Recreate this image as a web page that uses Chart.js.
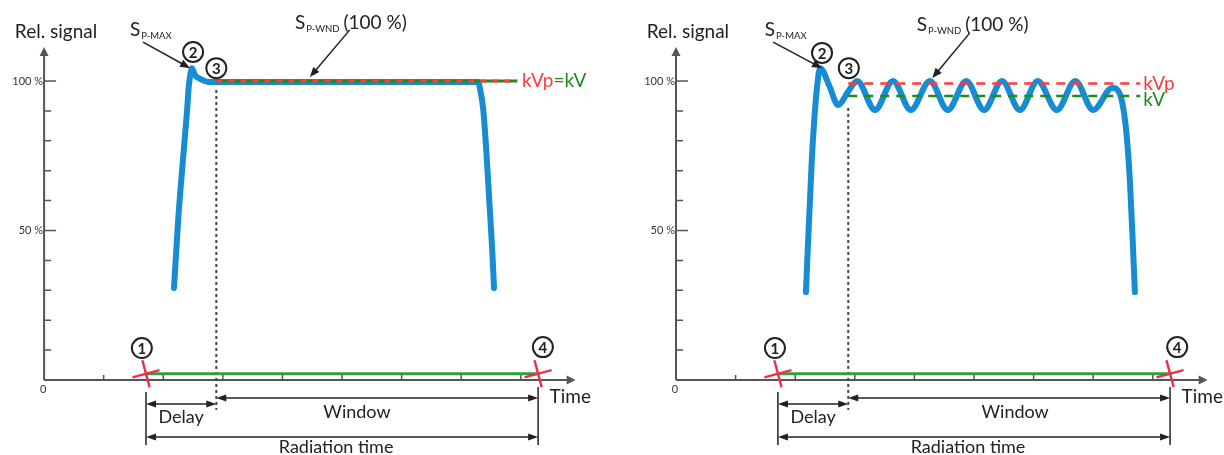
<!DOCTYPE html>
<html lang="en">
<head>
<meta charset="UTF-8">
<title>Signal window</title>
<style>
  body { margin: 0; background: #fff; width: 1224px; height: 455px; overflow: hidden; position: relative; }
  .panel { position: absolute; top: 0; width: 612px; height: 455px; }
  #leftPanel { left: 0; }
  #rightPanel { left: 612px; }
</style>
<script src="https://cdn.jsdelivr.net/npm/chart.js"></script>
</head>
<body>
<div class="panel" id="leftPanel"><canvas id="leftChart" width="612" height="455"></canvas></div>
<div class="panel" id="rightPanel"><canvas id="rightChart" width="612" height="455"></canvas></div>
<script>
// time in tick units, signal in %
const timeTicks = [1, 2, 3, 4, 5, 6, 7, 8];
const signalTicks = [10, 20, 30, 40, 50, 60, 70, 80, 90, 100];
const signalTickLabels = ['', '', '', '', '50 %', '', '', '', '', '100 %'];

const radiationStart = 1.71;
const radiationEnd = 8.29;
const windowStart = 2.89;
const baselineLevel = 2.1;

// left panel: stable signal
const leftTime   = [2.18, 2.25, 2.33, 2.40, 2.43, 2.47, 2.48, 2.53, 2.62, 2.75, 7.28, 7.32, 7.37, 7.42, 7.47, 7.52, 7.55];
const leftSignal = [30.8, 53.5, 73.6, 90.3, 98.7, 103.7, 104.3, 102.0, 100.7, 99.7, 99.7, 97.0, 90.3, 76.9, 60.2, 43.5, 30.8];
const leftKv = 100;
const leftKvEnd = 7.94;

// right panel: rippled signal
const rightTime   = [2.18, 2.28, 2.37, 2.42, 2.57, 2.72, 2.89, 3.04, 3.34, 3.64, 3.94, 4.26, 4.56, 4.87, 5.17, 5.47, 5.77, 6.07, 6.39, 6.70, 7.00, 7.32, 7.45, 7.52, 7.57, 7.62, 7.66, 7.70];
const rightSignal = [29.4, 74.2, 98.7, 104.3, 98.5, 92.0, 96.5, 100.0, 90.3, 100.0, 90.3, 100.0, 90.3, 100.0, 90.3, 100.0, 90.3, 100.0, 90.3, 100.0, 90.3, 97.7, 95.5, 89.0, 80.0, 65.0, 48.0, 29.4];
const rightKvp = 99.2;
const rightKv = 95.0;
const rightKvEnd = 7.79;

const BLUE = '#168cd2';
const GREEN = '#2ea043';
const DARK_GREEN = '#1c8c1c';
const RED = '#ff3b3b';
const AXIS = '#555';
const INK = '#222';
const FONT = 'Lato, "Open Sans", sans-serif';

function pts(xs, ys) {
    return xs.map((x, i) => ({ x: x, y: ys[i] }));
}

function head(ctx, x1, y1, x2, y2, len, half) {
    const a = Math.atan2(y2 - y1, x2 - x1);
    const c = Math.cos(a), s = Math.sin(a);
    ctx.beginPath();
    ctx.moveTo(x2, y2);
    ctx.lineTo(x2 - len * c + half * s, y2 - len * s - half * c);
    ctx.lineTo(x2 - len * c - half * s, y2 - len * s + half * c);
    ctx.closePath();
    ctx.fill();
}

function makePlugin(cfg) {
    return {
        id: 'sketch',
        beforeDatasetsDraw(chart) {
            const ctx = chart.ctx;
            const X = v => chart.scales.x.getPixelForValue(v);
            const Y = v => chart.scales.y.getPixelForValue(v);
            const ox = X(0), oy = Y(0);
            ctx.save();
            ctx.strokeStyle = AXIS;
            ctx.fillStyle = AXIS;
            ctx.lineWidth = 2;
            // axes with arrows
            ctx.beginPath();
            ctx.moveTo(ox, oy); ctx.lineTo(ox, Y(111.4) + 6);
            ctx.moveTo(ox, oy); ctx.lineTo(X(8.92) - 6, oy);
            ctx.stroke();
            head(ctx, ox, oy, ox, Y(111.4), 9, 4.5);
            head(ctx, ox, oy, X(8.92), oy, 9, 4.5);
            // ticks
            ctx.lineWidth = 1.5;
            ctx.beginPath();
            timeTicks.forEach(t => { ctx.moveTo(X(t), oy); ctx.lineTo(X(t), oy - 5); });
            signalTicks.forEach((s, i) => {
                ctx.moveTo(ox, Y(s));
                ctx.lineTo(ox + (signalTickLabels[i] ? 12 : 7), Y(s));
            });
            ctx.stroke();
            ctx.fillStyle = '#333';
            ctx.font = '11px ' + FONT;
            ctx.textBaseline = 'middle';
            ctx.textAlign = 'right';
            signalTicks.forEach((s, i) => {
                if (signalTickLabels[i]) ctx.fillText(signalTickLabels[i], ox - 1, Y(s));
            });
            ctx.textAlign = 'center';
            ctx.fillText('0', ox - 1, oy + 9);
            ctx.fillStyle = INK;
            ctx.font = '19px ' + FONT;
            ctx.fillText('Rel. signal', X(0.2), Y(116.4));
            ctx.fillText('Time', X(8.83), Y(-5.7));
            ctx.restore();
        },
        afterDatasetsDraw(chart) {
            const ctx = chart.ctx;
            const X = v => chart.scales.x.getPixelForValue(v);
            const Y = v => chart.scales.y.getPixelForValue(v);
            ctx.save();
            ctx.strokeStyle = INK;
            ctx.fillStyle = INK;
            ctx.textBaseline = 'middle';

            // dimension lines
            ctx.lineWidth = 1.5;
            ctx.beginPath();
            ctx.moveTo(X(radiationStart), Y(-4)); ctx.lineTo(X(radiationStart), Y(-21.7));
            ctx.moveTo(X(radiationEnd), Y(-2.3)); ctx.lineTo(X(radiationEnd), Y(-21.7));
            ctx.stroke();
            const dim = (a, b, lvl) => {
                ctx.beginPath();
                ctx.moveTo(X(a) + 4, Y(lvl)); ctx.lineTo(X(b) - 4, Y(lvl));
                ctx.stroke();
                head(ctx, X(b), Y(lvl), X(a), Y(lvl), 10, 3.5);
                head(ctx, X(a), Y(lvl), X(b), Y(lvl), 10, 3.5);
            };
            dim(radiationStart, windowStart, -8);
            dim(windowStart, radiationEnd, -6);
            dim(radiationStart, radiationEnd, -19.1);

            ctx.font = '18px ' + FONT;
            ctx.textAlign = 'center';
            ctx.fillText('Delay', X((radiationStart + windowStart) / 2), Y(-12.4));
            ctx.fillText('Window', X(cfg.windowText), Y(-10.7));
            ctx.fillText('Radiation time', X(4.9), Y(-22.4));

            // labels with subscripts
            const sub = (x, y, sText, tail) => {
                ctx.textAlign = 'left';
                ctx.font = '19px ' + FONT;
                let px = X(x);
                ctx.fillText('S', px, Y(y));
                px += ctx.measureText('S').width + 1;
                ctx.font = '9.5px ' + FONT;
                ctx.fillText(sText, px, Y(y) + 6);
                px += ctx.measureText(sText).width + 4;
                if (tail) {
                    ctx.font = '19px ' + FONT;
                    ctx.fillText(tail, px, Y(y));
                }
            };
            sub(cfg.pmax[0], cfg.pmax[1], 'P-MAX');
            sub(cfg.pwnd[0], cfg.pwnd[1], 'P-WND', '(100 %)');

            // pointer arrows
            ctx.lineWidth = 1.5;
            cfg.arrows.forEach(a => {
                const x1 = X(a[0]), y1 = Y(a[1]), x2 = X(a[2]), y2 = Y(a[3]);
                const d = Math.hypot(x2 - x1, y2 - y1);
                ctx.beginPath();
                ctx.moveTo(x1, y1);
                ctx.lineTo(x2 - (x2 - x1) / d * 6, y2 - (y2 - y1) / d * 6);
                ctx.stroke();
                head(ctx, x1, y1, x2, y2, 10, 4);
            });

            // numbered circles
            cfg.circles.forEach(c => {
                ctx.beginPath();
                ctx.lineWidth = 2;
                ctx.fillStyle = '#fff';
                ctx.arc(X(c[1]), Y(c[2]), 10, 0, Math.PI * 2);
                ctx.fill();
                ctx.stroke();
                ctx.fillStyle = INK;
                ctx.font = 'bold 15px ' + FONT;
                ctx.textAlign = 'center';
                ctx.fillText(c[0], X(c[1]), Y(c[2]) + 1);
            });

            // kV labels
            ctx.font = '19px ' + FONT;
            ctx.textAlign = 'left';
            cfg.kvLabels.forEach(l => {
                let px = X(l.x);
                l.parts.forEach(p => {
                    ctx.fillStyle = p[1];
                    ctx.fillText(p[0], px, Y(l.y));
                    px += ctx.measureText(p[0]).width;
                });
            });
            ctx.restore();
        }
    };
}

function buildChart(cfg) {
    const datasets = [
        {
            data: pts([radiationStart, radiationEnd], [baselineLevel, baselineLevel]),
            borderColor: GREEN, borderWidth: 3, order: 6
        },
        {
            data: pts([windowStart, windowStart], [cfg.dottedTop, -10]),
            borderColor: '#444', borderWidth: 2, borderDash: [3, 3], order: 7
        },
        {
            data: pts(cfg.time, cfg.signal),
            borderColor: BLUE, borderWidth: 6, cubicInterpolationMode: 'monotone',
            borderCapStyle: 'round', borderJoinStyle: 'round', order: 5
        },
        {
            data: pts([radiationStart, radiationEnd], [baselineLevel, baselineLevel]),
            showLine: false, pointStyle: 'cross', pointRadius: 14, pointRotation: -15,
            pointBorderColor: '#e8334a', pointBorderWidth: 2.5, order: 1
        }
    ].concat(cfg.levels);

    return new Chart(document.getElementById(cfg.canvas), {
        type: 'line',
        data: { datasets: datasets },
        options: {
            responsive: false,
            animation: false,
            events: [],
            layout: { padding: 0, autoPadding: false },
            elements: { point: { radius: 0 } },
            scales: {
                x: { type: 'linear', min: cfg.xMin, max: cfg.xMax, display: false },
                y: { type: 'linear', min: -25.08, max: 127.09, display: false }
            },
            plugins: { legend: { display: false }, tooltip: { enabled: false } }
        },
        plugins: [makePlugin(cfg)]
    });
}

buildChart({
    canvas: 'leftChart', xMin: -0.74, xMax: 9.53,
    time: leftTime, signal: leftSignal, dottedTop: 97,
    levels: [
        { data: pts([windowStart, leftKvEnd], [leftKv, leftKv]), borderColor: DARK_GREEN, borderWidth: 3, order: 3 },
        { data: pts([windowStart, leftKvEnd], [leftKv, leftKv]), borderColor: RED, borderWidth: 3, borderDash: [6, 6], order: 2 }
    ],
    pmax: [1.44, 117.1], pwnd: [4.21, 119.4],
    arrows: [[1.66, 113.0, 2.45, 104.3], [5.13, 117.1, 4.46, 101.3]],
    circles: [['1', 1.64, 10.7], ['2', 2.5, 109.7], ['3', 2.89, 104.3], ['4', 8.37, 11]],
    kvLabels: [{ x: 8.02, y: leftKv, parts: [['kVp', RED], ['=kV', DARK_GREEN]] }],
    windowText: 5.25
});

buildChart({
    canvas: 'rightChart', xMin: -1.074, xMax: 9.195,
    time: rightTime, signal: rightSignal, dottedTop: 91,
    levels: [
        { data: pts([windowStart, rightKvEnd], [rightKvp, rightKvp]), borderColor: RED, borderWidth: 2.5, borderDash: [9, 7], order: 2 },
        { data: pts([windowStart, rightKvEnd], [rightKv, rightKv]), borderColor: DARK_GREEN, borderWidth: 2.5, borderDash: [9, 7], order: 2 }
    ],
    pmax: [1.49, 117.1], pwnd: [4.04, 118.7],
    arrows: [[1.63, 113.0, 2.45, 104.3], [4.93, 116.1, 4.30, 101.0]],
    circles: [['1', 1.66, 10.7], ['2', 2.45, 109.4], ['3', 2.9, 104.3], ['4', 8.41, 11]],
    kvLabels: [
        { x: 7.84, y: rightKvp, parts: [['kVp', RED]] },
        { x: 7.84, y: 93.6, parts: [['kV', DARK_GREEN]] }
    ],
    windowText: 5.69
});
</script>
</body>
</html>
